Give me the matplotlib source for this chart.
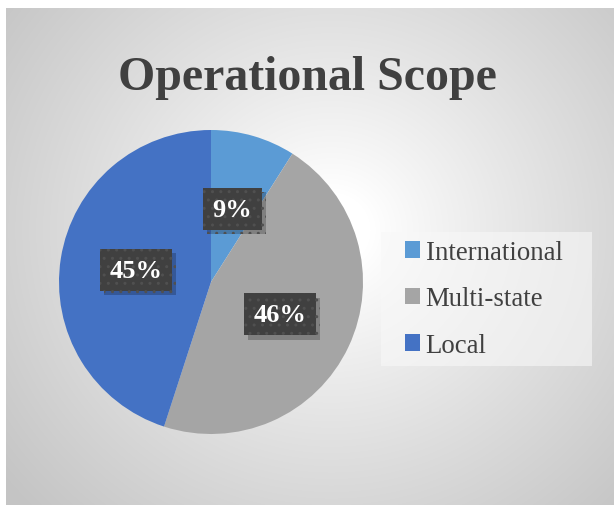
import numpy as np
import matplotlib.pyplot as plt
import matplotlib.patheffects as pe
from matplotlib.patches import Rectangle

categories = ['International', 'Multi-state', 'Local']
shares = [9, 46, 45]
colors = ['#5B9BD5', '#A5A5A5', '#4472C4']
title = 'Operational Scope'

W, H = 614, 506
fig = plt.figure(figsize=(W / 100, H / 100), dpi=100)
fig.patch.set_facecolor('white')

# radial grey gradient background (chart area)
bg = fig.add_axes([6 / W, 0, 608 / W, 497 / H])
yy, xx = np.mgrid[0:497, 0:608]
d = np.hypot(xx - 325, (yy - 222) * 1.05)
v = np.clip((d - 40) / 380, 0, 1)
shade = 1.0 - 0.23 * v ** 0.9
bg.imshow(np.dstack([shade] * 3), aspect='auto', interpolation='bilinear')
bg.set_axis_off()

# legend backdrop
fig.patches.append(Rectangle((381 / W, 1 - 367 / H), 211 / W, 134 / H,
                             transform=fig.transFigure, facecolor='#f8f8f8',
                             alpha=0.6, linewidth=0, zorder=1))

# pie
cx, cy, r = 211, 283, 152
ax = fig.add_axes([(cx - r) / W, (H - cy - r) / H, 2 * r / W, 2 * r / H])
wedges, texts, autotexts = ax.pie(
    shares, colors=colors, startangle=90, counterclock=False,
    autopct='%1.0f%%', pctdistance=0.5,
    wedgeprops=dict(linewidth=0),
    textprops=dict(family='Liberation Serif', fontsize=19, fontweight='bold', color='white'))
ax.set_xlim(-1, 1)
ax.set_ylim(-1, 1)
for t in autotexts:
    t.set_bbox(dict(boxstyle='square,pad=0.36', facecolor='#404040',
                    edgecolor='#505050', linewidth=0, hatch='..'))
    t.get_bbox_patch().set_path_effects([
        pe.SimplePatchShadow(offset=(3, -3), shadow_rgbFace='black', alpha=0.22),
        pe.Normal()])

fig.text(0.5, 1 - 90 / H, title, ha='center', va='baseline',
         family='Liberation Serif', fontsize=34.5, fontweight='bold', color='#404040')

leg = fig.legend(wedges, categories, loc='center left',
                 bbox_to_anchor=(405 / W, 1 - 300 / H),
                 prop=dict(family='Liberation Serif', size=19.3),
                 labelcolor='#404040', frameon=False,
                 handlelength=0.55, handleheight=0.55, handletextpad=0.22,
                 labelspacing=0.8, borderpad=0, borderaxespad=0)

fig.savefig('out.png', dpi=100)
